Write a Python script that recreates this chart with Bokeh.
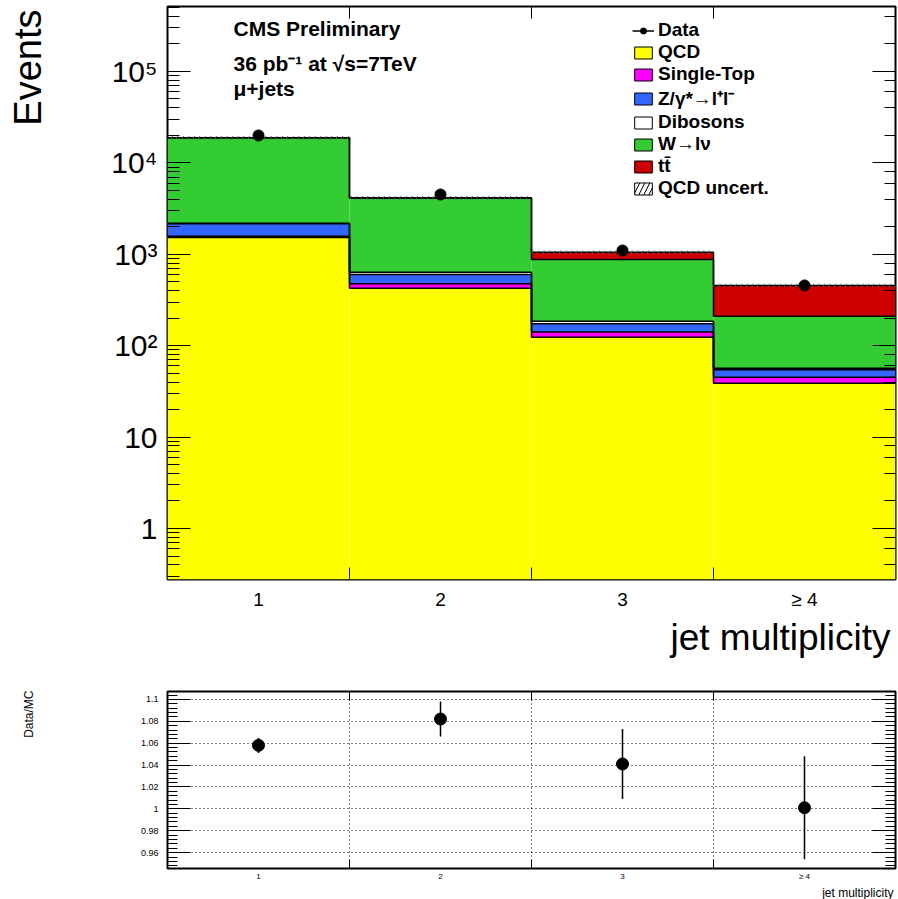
import numpy as np
from bokeh.plotting import figure
from bokeh.models import (Range1d, LogAxis, LinearAxis, LogTicker, FixedTicker,
                          SingleIntervalTicker, Legend, LegendItem, Label, Title,
                          ColumnDataSource, NumeralTickFormatter, CustomJSTickFormatter)
from bokeh.layouts import column
from bokeh.embed import file_html
from bokeh.resources import INLINE

# ---------------- data ----------------
jet_bins = ["1", "2", "3", "\u2265 4"]
qcd        = [1530, 426, 124, 38.9]
single_top = [45, 50, 17, 6.3]
zjets      = [590, 125, 33, 9.2]
dibosons   = [25, 36, 11, 2.3]
wjets      = [16600, 3470, 692, 153]
ttbar      = [60, 60, 177, 246]
data       = [19950, 4510, 1100, 456]
ratio      = [1.058, 1.082, 1.041, 1.001]
ratio_err  = [0.007, 0.016, 0.032, 0.047]

layer_names  = ["QCD", "Single-Top", "Z/\u03b3*\u2192l\u207al\u207b", "Dibosons", "W\u2192l\u03bd", "tt\u0304"]
layer_values = [qcd, single_top, zjets, dibosons, wjets, ttbar]
layer_colors = ["#ffff00", "#ff00ff", "#3366ff", "#ffffff", "#33cc33", "#cc0000"]

FONT = "Liberation Sans"
Y_MIN, Y_MAX = 0.2767, 5.14e5
R_MIN, R_MAX = 0.9455, 1.1072

n = len(jet_bins)
xc = np.arange(1, n + 1, dtype=float)
lo_edges = xc - 0.5
hi_edges = xc + 0.5
inner_edges = list(hi_edges[:-1])
step_x = list(lo_edges) + [hi_edges[-1]]
NAN1 = [np.nan]

blank = CustomJSTickFormatter(code="return ''")

# ---------------- main plot ----------------
p = figure(width=898, height=680, y_axis_type="log",
           x_range=Range1d(0.5, 4.5), y_range=Range1d(Y_MIN, Y_MAX),
           output_backend="svg", toolbar_location=None,
           min_border_left=167, min_border_right=3, min_border_top=6,
           min_border_bottom=101)
p.background_fill_color = "white"
p.border_fill_color = "white"
p.outline_line_color = "black"
p.outline_line_width = 2
p.xgrid.visible = False
p.ygrid.visible = False

cum_prev = np.full(n, Y_MIN)
cum = np.zeros(n)
tops = []
for vals, col in zip(layer_values, layer_colors):
    cum = cum + np.array(vals, dtype=float)
    p.quad(left=lo_edges, right=hi_edges, bottom=cum_prev, top=cum.copy(),
           fill_color=col, line_color=None)
    tops.append(cum.copy())
    cum_prev = cum.copy()

for t in tops:
    p.step(x=step_x, y=list(t) + [t[-1]], mode="after",
           line_color="black", line_width=1.5)

total = tops[-1]
p.quad(left=lo_edges, right=hi_edges, bottom=total / 1.045, top=total * 1.045,
       fill_alpha=0, line_color=None, hatch_pattern="/", hatch_color="#555555",
       hatch_scale=11, hatch_weight=1)

data_r = p.scatter(x=xc, y=data, size=11, color="black")

# legend proxies (NaN rows: nothing drawn in the plot)
nan_q = dict(left=NAN1, right=NAN1, bottom=NAN1, top=NAN1)
data_line = p.segment(x0=NAN1, y0=NAN1, x1=NAN1, y1=NAN1, line_color="black",
                      line_width=1.5)
items = [LegendItem(label="Data", renderers=[data_line, data_r])]
for name, col in zip(layer_names, layer_colors):
    r_ = p.quad(**nan_q, fill_color=col, line_color="black", line_width=1)
    items.append(LegendItem(label=name, renderers=[r_]))
unc = p.quad(**nan_q, fill_color="white", line_color="black", line_width=1,
             hatch_pattern="/", hatch_color="black", hatch_scale=10)
items.append(LegendItem(label="QCD uncert.", renderers=[unc]))

legend = Legend(items=items, location=(465, 380), glyph_width=22, glyph_height=15,
                label_text_font=FONT, label_text_font_size="19px",
                label_text_font_style="bold", label_text_color="black",
                label_standoff=4, spacing=0, padding=0, margin=0,
                border_line_color=None, background_fill_alpha=0, label_height=20)
p.add_layout(legend)

# axes
ya = p.yaxis[0]
ya.major_label_overrides = {1: "1", 10: "10", 100: "10\u00b2", 1000: "10\u00b3",
                            10000: "10\u2074", 100000: "10\u2075"}
ya.major_label_text_font = FONT
ya.major_label_text_font_size = "30px"
ya.major_label_text_color = "black"
ya.major_label_standoff = 10
ya.major_tick_in = 23
ya.major_tick_out = 0
ya.minor_tick_in = 12
ya.minor_tick_out = 0
ya.axis_line_color = None
# blank axis label only reserves room so the title sits at the far left
ya.axis_label = " "
ya.axis_label_text_font_size = "10px"
ya.axis_label_standoff = 44

xa = p.xaxis[0]
xa.ticker = FixedTicker(ticks=list(xc), minor_ticks=inner_edges)
xa.major_label_overrides = {int(v): lab for v, lab in zip(xc, jet_bins)}
xa.major_label_text_font = FONT
xa.major_label_text_font_size = "19px"
xa.major_label_text_color = "black"
xa.major_label_standoff = 9
xa.major_tick_in = 0
xa.major_tick_out = 0
xa.minor_tick_in = 12
xa.minor_tick_out = 0
xa.axis_line_color = None

p.add_layout(LinearAxis(ticker=FixedTicker(ticks=[], minor_ticks=inner_edges),
                        major_tick_in=0, major_tick_out=0, minor_tick_in=12,
                        minor_tick_out=0, axis_line_color=None,
                        formatter=blank, major_label_standoff=0), "above")
p.add_layout(LogAxis(ticker=LogTicker(), major_tick_in=23, major_tick_out=0,
                     minor_tick_in=11, minor_tick_out=0, axis_line_color=None,
                     formatter=blank, major_label_standoff=0), "right")

# texts inside the frame
def lab(fig, **kw):
    base = dict(text_font=FONT, text_color="black")
    base.update(kw)
    fig.add_layout(Label(**base))

lab(p, x=0.8626, y=2.95e5, text="CMS Preliminary", text_font_size="21px",
    text_font_style="bold", text_baseline="alphabetic")
lab(p, x=0.8626, y=1.223e5, text="36 pb\u207b\u00b9 at \u221as=7TeV",
    text_font_size="21px", text_font_style="bold", text_baseline="alphabetic")
lab(p, x=0.8626, y=6.52e4, text="\u03bc+jets", text_font_size="21px",
    text_font_style="bold", text_baseline="alphabetic")

# axis titles (ROOT style: at the far end of the axis)
def title(fig, side, **kw):
    base = dict(text_font=FONT, text_font_style="normal", text_color="black",
                align="right")
    base.update(kw)
    fig.add_layout(Title(**base), side)

title(p, "left", text="Events", text_font_size="38px", offset=3, standoff=4)
title(p, "below", text="jet multiplicity", text_font_size="37px", offset=5,
      standoff=4)

# ---------------- ratio plot ----------------
r = figure(width=898, height=219, x_range=Range1d(0.5, 4.5),
           y_range=Range1d(R_MIN, R_MAX), output_backend="svg",
           toolbar_location=None, min_border_left=167, min_border_right=3,
           min_border_top=11, min_border_bottom=29)
r.background_fill_color = "white"
r.border_fill_color = "white"
r.outline_line_color = "black"
r.outline_line_width = 2

ry = r.yaxis[0]
ry.ticker = SingleIntervalTicker(interval=0.02, num_minor_ticks=5)
ry.formatter = NumeralTickFormatter(format="0.[00]")
ry.major_label_text_font = FONT
ry.major_label_text_font_size = "9px"
ry.major_label_text_color = "black"
ry.major_label_standoff = 9
ry.major_tick_in = 23
ry.major_tick_out = 0
ry.minor_tick_in = 10
ry.minor_tick_out = 0
ry.axis_line_color = None
ry.axis_label = " "
ry.axis_label_text_font_size = "10px"
ry.axis_label_standoff = 86

rx = r.xaxis[0]
rx.ticker = FixedTicker(ticks=list(xc), minor_ticks=inner_edges)
rx.major_label_overrides = {int(v): lab_ for v, lab_ in zip(xc, jet_bins)}
rx.major_label_text_font = FONT
rx.major_label_text_font_size = "8px"
rx.major_label_text_color = "black"
rx.major_label_standoff = 3
rx.major_tick_in = 0
rx.major_tick_out = 0
rx.minor_tick_in = 9
rx.minor_tick_out = 0
rx.axis_line_color = None

r.add_layout(LinearAxis(ticker=FixedTicker(ticks=[], minor_ticks=inner_edges),
                        major_tick_in=0, major_tick_out=0, minor_tick_in=9,
                        minor_tick_out=0, axis_line_color=None,
                        formatter=blank, major_label_standoff=0), "above")
r.add_layout(LinearAxis(ticker=SingleIntervalTicker(interval=0.02, num_minor_ticks=5),
                        major_tick_in=23, major_tick_out=0, minor_tick_in=10,
                        minor_tick_out=0, axis_line_color=None,
                        formatter=blank, major_label_standoff=0), "right")

r.ygrid.grid_line_color = "black"
r.ygrid.grid_line_dash = "1 3"
r.ygrid.grid_line_width = 1
r.xgrid.ticker = FixedTicker(ticks=inner_edges)
r.xgrid.grid_line_color = "black"
r.xgrid.grid_line_dash = "1 3"
r.xgrid.grid_line_width = 1

rsrc = ColumnDataSource(dict(x=xc, y=ratio,
                             lo=np.array(ratio) - np.array(ratio_err),
                             hi=np.array(ratio) + np.array(ratio_err)))
r.segment(x0="x", x1="x", y0="lo", y1="hi", source=rsrc, line_color="black",
          line_width=1.5)
r.scatter(x="x", y="y", source=rsrc, size=12, color="black")

title(r, "left", text="Data/MC", text_font_size="12px", offset=-1, standoff=4)
title(r, "below", text="jet multiplicity", text_font_size="12px", offset=2,
      standoff=0)

layout = column(p, r, spacing=0)
open("out.html", "w").write(file_html(layout, INLINE))
